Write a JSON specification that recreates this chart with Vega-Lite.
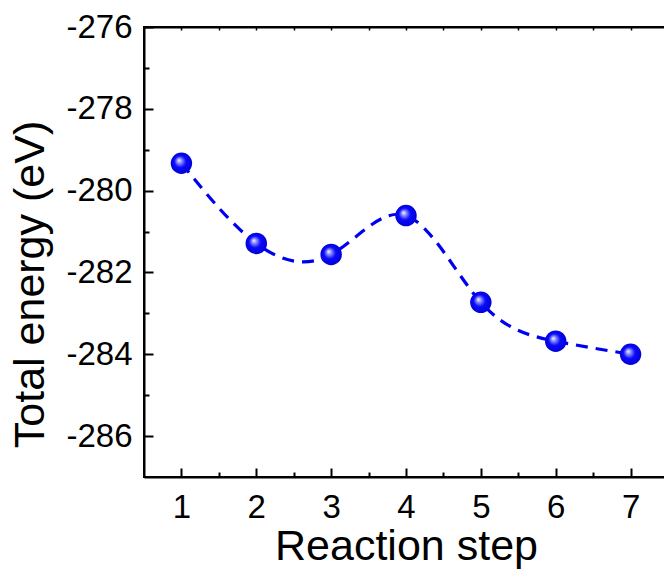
{
  "$schema": "https://vega.github.io/schema/vega-lite/v6.json",
  "autosize": "none",
  "width": 524,
  "height": 450,
  "padding": {"left": 144, "top": 27, "right": 0, "bottom": 92},
  "background": "white",
  "config": {
    "view": {"stroke": "black", "strokeWidth": 2},
    "font": "Liberation Sans",
    "axis": {"grid": false, "domainColor": "black", "tickColor": "black", "labelColor": "black", "titleColor": "black", "labelFont": "Liberation Sans", "titleFont": "Liberation Sans", "titleFontWeight": "normal"}
  },
  "data": {"values": [
    {"step": 1, "energy": -279.33},
    {"step": 2, "energy": -281.29},
    {"step": 3, "energy": -281.56},
    {"step": 4, "energy": -280.61},
    {"step": 5, "energy": -282.73},
    {"step": 6, "energy": -283.68},
    {"step": 7, "energy": -284.0}
  ]},
  "resolve": {"axis": {"x": "independent", "y": "independent"}},
  "layer": [
    {
      "mark": {"type": "line", "interpolate": "natural", "color": "#0000f0", "strokeWidth": 3.2, "strokeDash": [12, 8]},
      "encoding": {
        "x": {"field": "step", "type": "quantitative", "scale": {"domain": [0.5, 7.5], "nice": false, "zero": false},
          "axis": {"orient": "bottom", "values": [1, 2, 3, 4, 5, 6, 7], "title": "Reaction step", "titleFontSize": 43, "titleY": 48, "labelFontSize": 33, "labelPadding": 23, "tickSize": -9, "tickWidth": 2, "domainWidth": 2, "labelFlush": false}},
        "y": {"field": "energy", "type": "quantitative", "scale": {"domain": [-287, -276], "nice": false, "zero": false},
          "axis": {"orient": "left", "values": [-286, -284, -282, -280, -278, -276], "labelExpr": "replace(datum.label, '\u2212', '-')", "title": "Total energy (eV)", "titleFontSize": 43, "titleX": -92, "titleY": 257, "labelFontSize": 33, "labelPadding": 21, "tickSize": -9, "tickWidth": 2, "domainWidth": 2, "labelFlush": false}}
      }
    },
    {
      "mark": {"type": "point", "filled": true, "size": 460, "opacity": 1, "strokeWidth": 0,
        "fill": {"gradient": "radial", "x1": 0.38, "y1": 0.36, "r1": 0, "x2": 0.5, "y2": 0.5, "r2": 0.55,
          "stops": [{"offset": 0, "color": "#ffffff"}, {"offset": 0.18, "color": "#9a9aff"}, {"offset": 0.5, "color": "#0a0aff"}, {"offset": 1, "color": "#0000cc"}]}},
      "encoding": {
        "x": {"field": "step", "type": "quantitative",
          "axis": {"orient": "bottom", "values": [1.5, 2.5, 3.5, 4.5, 5.5, 6.5], "labels": false, "title": null, "tickSize": -5, "tickWidth": 2, "domain": false}},
        "y": {"field": "energy", "type": "quantitative",
          "axis": {"orient": "left", "values": [-285, -283, -281, -279, -277], "labels": false, "title": null, "tickSize": -5, "tickWidth": 2, "domain": false}}
      }
    },
    {
      "mark": {"type": "point", "opacity": 0},
      "encoding": {
        "x": {"field": "step", "type": "quantitative",
          "axis": {"orient": "top", "values": [1, 1.5, 2, 2.5, 3, 3.5, 4, 4.5, 5, 5.5, 6, 6.5, 7, 7.5], "labels": false, "title": null, "tickSize": -3, "tickWidth": 1.5, "domainWidth": 2}},
        "y": {"field": "energy", "type": "quantitative", "axis": null}
      }
    }
  ]
}
